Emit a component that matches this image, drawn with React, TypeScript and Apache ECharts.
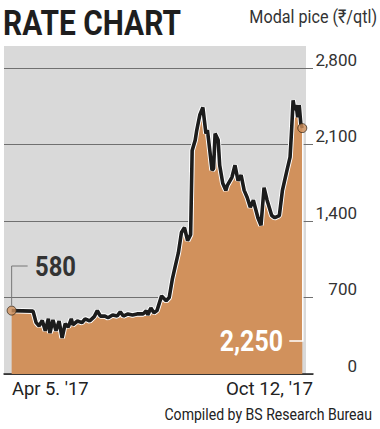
import React, { useEffect, useRef } from "react";
import * as echarts from "echarts";

// Day offsets from Apr 5, 2017 and modal price (Rs/qtl)
const days = [
  0, 14, 16, 18, 20, 22, 24, 25, 27, 29,
  31, 33, 35, 37, 39, 40, 43, 46, 48, 51,
  54, 56, 58, 61, 63, 66, 69, 71, 73, 76,
  79, 82, 86, 88, 89, 91, 93, 95, 98, 101,
  103, 105, 107, 109, 111, 113, 115, 117, 118, 120,
  121, 123, 125, 126, 127, 128, 129, 131, 132, 133,
  135, 136, 138, 140, 141, 144, 146, 148, 150, 152,
  154, 156, 158, 161, 163, 165, 167, 170, 172, 175,
  177, 180, 182, 183, 184, 185, 186, 187, 188, 189,
  190,
];
const prices = [
  580, 575, 470, 440, 490, 395, 505, 375, 495, 395,
  485, 330, 460, 430, 505, 450, 485, 470, 505, 485,
  525, 580, 530, 530, 515, 540, 530, 570, 530, 550,
  540, 550, 550, 580, 540, 605, 560, 580, 715, 670,
  700, 865, 990, 1110, 1295, 1340, 1220, 1275, 2045, 2140,
  2230, 2370, 2440, 2320, 2200, 2230, 2110, 1865, 1880, 2200,
  2140, 1910, 1745, 1680, 1725, 1800, 1910, 1770, 1820, 1680,
  1615, 1525, 1590, 1430, 1360, 1705, 1590, 1450, 1430, 1450,
  1680, 1865, 1985, 2230, 2505, 2415, 2460, 2350, 2460, 2295,
  2250,
];
const yTicks = [0, 700, 1400, 2100, 2800];
const xTickLabels = ["Apr 5. '17", "Oct 12, '17"];
const titleText = "RATE CHART";
const unitText = "Modal pice (₹/qtl)";
const sourceText = "Compiled by BS Research Bureau";
const startLabel = "580";
const endLabel = "2,250";

const FONT = 'Roboto, "Noto Sans", sans-serif';
const ORANGE = "#d1915c";
const GRAY = "#d9d9d9";

function txt(text: string, x: number, y: number, opts: any) {
  const align = opts.align || "left";
  const va = opts.va || "middle";
  return {
    type: "text",
    x,
    y,
    z: 100,
    scaleX: opts.sx || 1,
    style: {
      text,
      fill: opts.color || "#222",
      fontFamily: FONT,
      fontSize: opts.size,
      fontWeight: opts.weight || "normal",
      align,
      textAlign: align,
      verticalAlign: va,
      textVerticalAlign: va,
    },
  };
}

export default function App() {
  const ref = useRef<HTMLDivElement>(null);
  useEffect(() => {
    document.body.style.margin = "0";
    const chart = echarts.init(ref.current!, null, { renderer: "svg" });
    const data = days.map((d, i) => [d, prices[i]]);
    const last = data.length - 1;
    chart.setOption({
      animation: false,
      grid: { left: 4, right: 67, top: 68, bottom: 55 },
      xAxis: {
        type: "value",
        min: -5,
        max: 197,
        axisLine: { show: true, lineStyle: { color: "#222", width: 1.5 } },
        axisTick: { show: false },
        axisLabel: { show: false },
        splitLine: { show: false },
      },
      yAxis: {
        type: "value",
        position: "right",
        min: yTicks[0],
        max: yTicks[yTicks.length - 1],
        interval: yTicks[1] - yTicks[0],
        axisLine: { show: false },
        axisTick: { show: false },
        splitLine: { show: true, lineStyle: { color: "#707070", width: 1 } },
        axisLabel: {
          align: "right",
          margin: 44,
          verticalAlign: "bottom",
          fontFamily: FONT,
          fontSize: 17,
          color: "#333",
          formatter: (v: number) => v.toLocaleString("en-US"),
        },
      },
      series: [
        {
          type: "line",
          data,
          symbol: "none",
          lineStyle: { color: "#ffffff", width: 5.5 },
          areaStyle: { color: ORANGE, opacity: 1 },
          z: 2,
        },
        {
          type: "line",
          data,
          symbol: "none",
          lineStyle: { color: "#1c1c1c", width: 3.6 },
          z: 3,
        },
        {
          type: "scatter",
          data: [data[0], data[last]],
          symbolSize: 9,
          itemStyle: { color: ORANGE, borderColor: "#3a2a1a", borderWidth: 1 },
          z: 4,
        },
      ],
    });
    const p0 = chart.convertToPixel({ gridIndex: 0 }, data[0]) as number[];
    const pN = chart.convertToPixel({ gridIndex: 0 }, data[last]) as number[];
    chart.setOption({
      graphic: [
        { type: "rect", z: -10, shape: { x: 4, y: 46, width: 302, height: 328 }, style: { fill: GRAY } },
        txt(titleText, 3, 22, { size: 36, weight: "bold", color: "#1e1e1e", sx: 0.83 }),
        txt(unitText, 377, 17, { size: 19, align: "right", color: "#333", sx: 0.85 }),
        {
          type: "polyline",
          z: 100,
          shape: { points: [[p0[0], p0[1] - 5], [p0[0], 266], [p0[0] + 16, 266]] },
          style: { stroke: "#777", lineWidth: 1, fill: "none" },
        },
        txt(startLabel, 35, 266, { size: 28, weight: "bold", color: "#333", sx: 0.85 }),
        {
          type: "polyline",
          z: 100,
          shape: { points: [[pN[0] + 0.5, pN[1] + 5], [pN[0] + 0.5, 341], [pN[0] - 13, 341]] },
          style: { stroke: "#ffffff", lineWidth: 1.5, fill: "none" },
        },
        txt(endLabel, 283, 341, { size: 29, weight: "bold", color: "#ffffff", align: "right", sx: 0.86 }),
        txt(xTickLabels[0], 12, 389, { size: 18, color: "#222", sx: 1.02 }),
        txt(xTickLabels[1], 313, 389, { size: 18, color: "#222", align: "right", sx: 1.04 }),
        txt(sourceText, 372, 415, { size: 16, color: "#222", align: "right", sx: 0.88 }),
      ],
    });
    return () => chart.dispose();
  }, []);
  return <div ref={ref} style={{ width: 380, height: 429 }} />;
}
